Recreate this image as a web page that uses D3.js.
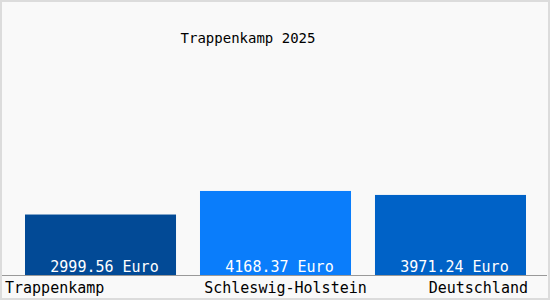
<!DOCTYPE html>
<meta charset="utf-8">
<script src="https://d3js.org/d3.v7.min.js"></script>
<style>
    body { margin: 0; }
    svg text { font-family: "DejaVu Sans Mono", monospace; }
</style>
<body>
</body>
<script>
    // data
    var places = ["Trappenkamp", "Schleswig-Holstein", "Deutschland"];
    var values = [2999.56, 4168.37, 3971.24];
    var valueLabels = ["2999.56 Euro", "4168.37 Euro", "3971.24 Euro"];
    var barColors = ["#024a96", "#0a7dfb", "#0062c7"];
    var title = "Trappenkamp 2025";

    var width = 550, height = 300;
    var margin = {top: 23, right: 24, bottom: 25, left: 25};

    var svg = d3.select("body")
        .append("svg")
            .attr("width", width)
            .attr("height", height);

    // background + frame
    svg.append("rect")
        .attr("x", 1).attr("y", 1)
        .attr("width", width - 2).attr("height", height - 2)
        .attr("fill", "#f9f9f9")
        .attr("stroke", "#dcdcdc")
        .attr("stroke-width", 2);

    var x = d3.scaleBand()
        .domain(places)
        .range([margin.left, width - margin.right])
        .paddingInner(0.137)
        .paddingOuter(0);

    var y = d3.scaleLinear()
        .domain([0, 12500])
        .range([height - margin.bottom, margin.top]);

    svg.append("text")
        .attr("x", 248)
        .attr("y", 43)
        .attr("text-anchor", "middle")
        .attr("font-size", "14px")
        .attr("fill", "#000")
        .text(title);

    svg.selectAll(".bar")
        .data(values)
        .enter()
        .append("rect")
            .attr("class", "bar")
            .attr("x", function(d, i) { return x(places[i]); })
            .attr("width", x.bandwidth())
            .attr("y", function(d) { return y(d); })
            .attr("height", function(d) { return y(0) - y(d); })
            .attr("fill", function(d, i) { return barColors[i]; });

    // value labels inside bars
    svg.selectAll(".val")
        .data(values)
        .enter()
        .append("text")
            .attr("class", "val")
            .attr("x", function(d, i) { return x(places[i]) + x.bandwidth() / 2 + 4; })
            .attr("y", y(0) - 3)
            .attr("text-anchor", "middle")
            .attr("font-size", "15px")
            .attr("fill", "#fff")
            .text(function(d, i) { return valueLabels[i]; });

    // baseline
    svg.append("line")
        .attr("x1", 2).attr("x2", width - 3)
        .attr("y1", y(0) + 0.5).attr("y2", y(0) + 0.5)
        .attr("stroke", "#999");

    // category labels: first left, middle centred, last right
    var anchors = ["start", "middle", "end"];
    svg.selectAll(".cat")
        .data(places)
        .enter()
        .append("text")
            .attr("class", "cat")
            .attr("x", function(d, i) {
                if (i == 0) return 5;
                if (i == places.length - 1) return x(d) + x.bandwidth() + 2;
                return x(d) + x.bandwidth() / 2 + 10;
            })
            .attr("y", 293)
            .attr("text-anchor", function(d, i) { return anchors[i]; })
            .attr("font-size", "15px")
            .attr("fill", "#000")
            .text(function(d) { return d; });
</script>
